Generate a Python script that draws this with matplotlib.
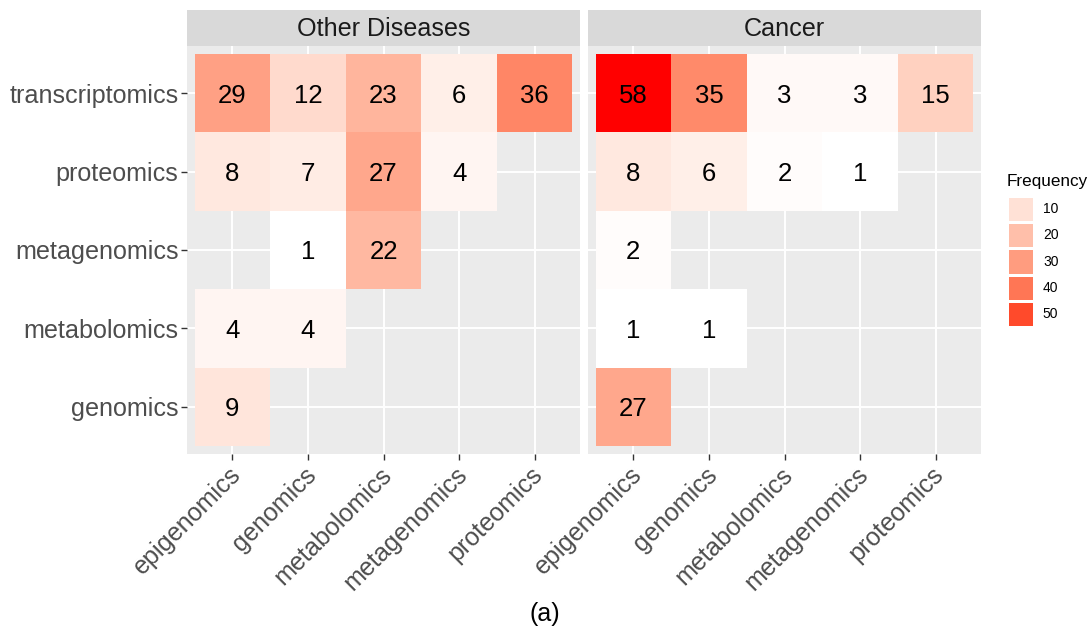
import numpy as np
import matplotlib
matplotlib.use("Agg")
import matplotlib.pyplot as plt
import matplotlib.transforms as mtransforms
from matplotlib.colors import ListedColormap, Normalize

plt.rcParams['font.family'] = ['Liberation Sans', 'DejaVu Sans']

# ---------------- data ----------------
x_categories = ["epigenomics", "genomics", "metabolomics", "metagenomics", "proteomics"]
y_categories = ["genomics", "metabolomics", "metagenomics", "proteomics", "transcriptomics"]
facets = ["Other Diseases", "Cancer"]
nan = np.nan
# rows follow y_categories (bottom -> top), columns follow x_categories
other_diseases = [
    [9,   nan, nan, nan, nan],   # genomics
    [4,   4,   nan, nan, nan],   # metabolomics
    [nan, 1,   22,  nan, nan],   # metagenomics
    [8,   7,   27,  4,   nan],   # proteomics
    [29,  12,  23,  6,   36],    # transcriptomics
]
cancer = [
    [27,  nan, nan, nan, nan],
    [1,   1,   nan, nan, nan],
    [2,   nan, nan, nan, nan],
    [8,   6,   2,   1,   nan],
    [58,  35,  3,   3,   15],
]
legend_breaks = [10, 20, 30, 40, 50]
caption = "(a)"
legend_title = "Frequency"

# ---------------- colour scale (white -> red in Lab, like ggplot) ----------------
def srgb_to_lab(rgb):
    rgb = np.asarray(rgb, float)
    lin = np.where(rgb <= 0.04045, rgb / 12.92, ((rgb + 0.055) / 1.055) ** 2.4)
    M = np.array([[0.4124564, 0.3575761, 0.1804375],
                  [0.2126729, 0.7151522, 0.0721750],
                  [0.0193339, 0.1191920, 0.9503041]])
    xyz = M @ lin
    wp = np.array([0.95047, 1.0, 1.08883])
    t = xyz / wp
    f = np.where(t > (6/29) ** 3, np.cbrt(t), t / (3 * (6/29) ** 2) + 4/29)
    return np.array([116 * f[1] - 16, 500 * (f[0] - f[1]), 200 * (f[1] - f[2])])

def lab_to_srgb(lab):
    L, a, b = lab
    fy_ = (L + 16) / 116
    fx_ = fy_ + a / 500
    fz_ = fy_ - b / 200
    def finv(t):
        return np.where(t > 6/29, t ** 3, 3 * (6/29) ** 2 * (t - 4/29))
    wp = np.array([0.95047, 1.0, 1.08883])
    xyz = np.array([finv(fx_), finv(fy_), finv(fz_)]) * wp
    Minv = np.array([[3.2404542, -1.5371385, -0.4985314],
                     [-0.9692660, 1.8760108, 0.0415560],
                     [0.0556434, -0.2040259, 1.0572252]])
    lin = Minv @ xyz
    lin = np.clip(lin, 0, 1)
    rgb = np.where(lin <= 0.0031308, 12.92 * lin, 1.055 * lin ** (1/2.4) - 0.055)
    return np.clip(rgb, 0, 1)

lab_lo = srgb_to_lab([1, 1, 1])
lab_hi = srgb_to_lab([1, 0, 0])
cols = [lab_to_srgb(lab_lo + (lab_hi - lab_lo) * t) for t in np.linspace(0, 1, 256)]
cmap = ListedColormap(cols)
all_vals = np.array(other_diseases + cancer, float)
norm = Normalize(vmin=np.nanmin(all_vals), vmax=np.nanmax(all_vals))

# ---------------- figure ----------------
W, H = 1089, 629
fig = plt.figure(figsize=(W / 100, H / 100), dpi=100)

def fx(px):
    return px / W

def fy(py):
    return 1 - py / H

panel_top, panel_bot = 46, 454
strip_top = 10
panels_x = [(187, 580), (588, 981)]
tick_color = "#4D4D4D"
fs_tick = 18.1
fs_num = 18.5
nx, ny = len(x_categories), len(y_categories)
xlab_shift = mtransforms.ScaledTranslation(-4 / 100, 0, fig.dpi_scale_trans)

for k, (name, data) in enumerate(zip(facets, [other_diseases, cancer])):
    x0, x1 = panels_x[k]
    ax = fig.add_axes([fx(x0), fy(panel_bot), fx(x1) - fx(x0), fy(panel_top) - fy(panel_bot)])
    ax.set_facecolor("#EBEBEB")
    arr = np.ma.masked_invalid(np.array(data, float))
    xe = np.arange(nx + 1) - 0.5
    ye = np.arange(ny + 1) - 0.5
    ax.pcolormesh(xe, ye, arr, cmap=cmap, norm=norm, zorder=2, edgecolors='none')
    for i in range(ny):
        for j in range(nx):
            v = data[i][j]
            if not np.isnan(v):
                ax.text(j, i, f"{int(v)}", ha='center', va='center_baseline', fontsize=fs_num,
                        color='black', zorder=3)
    ax.set_xlim(-0.6, nx - 0.4)
    ax.set_ylim(-0.6, ny - 0.4)
    ax.set_xticks(range(nx))
    ax.set_yticks(range(ny))
    ax.grid(True, color='white', linewidth=1.4, zorder=0)
    ax.set_axisbelow(True)
    for s in ax.spines.values():
        s.set_visible(False)
    ax.tick_params(axis='both', length=4, width=1.0, color='#333333', labelcolor=tick_color,
                   labelsize=fs_tick, pad=2.2)
    ax.set_xticklabels(x_categories, rotation=45, ha='right', va='top', rotation_mode='anchor')
    for lbl in ax.get_xticklabels():
        lbl.set_transform(lbl.get_transform() + xlab_shift)
    if k == 0:
        ax.set_yticklabels(y_categories)
    else:
        ax.set_yticklabels([])
        ax.tick_params(axis='y', length=0)

    # strip
    sax = fig.add_axes([fx(x0), fy(panel_top), fx(x1) - fx(x0), fy(strip_top) - fy(panel_top)])
    sax.set_facecolor("#D9D9D9")
    sax.set_xticks([]); sax.set_yticks([])
    for s in sax.spines.values():
        s.set_visible(False)
    sax.text(0.5, 0.47, name, ha='center', va='center', fontsize=fs_tick, color='#1A1A1A',
             transform=sax.transAxes)

# legend
lx0, lx1, ly0, ly1 = 1007, 1034, 196, 327
lax = fig.add_axes([fx(lx0), fy(ly1), fx(lx1) - fx(lx0), fy(ly0) - fy(ly1)])
lvals = np.array(legend_breaks, float)[::-1].reshape(-1, 1)
lax.pcolormesh([0, 1], np.arange(len(legend_breaks) + 1), lvals, cmap=cmap, norm=norm,
               edgecolors='white', linewidth=0.8)
lax.set_xlim(0, 1)
lax.set_ylim(0, len(legend_breaks))
lax.set_xticks([]); lax.set_yticks([])
for s in lax.spines.values():
    s.set_visible(False)
for i, b in enumerate(legend_breaks[::-1]):
    lax.text(1.33, i + 0.5, str(b), ha='left', va='center', fontsize=10, color='black',
             transform=lax.transData, clip_on=False)
fig.text(fx(1007), fy(181), legend_title, ha='left', va='center', fontsize=12.3, color='black')

fig.text(0.5, fy(614), caption, ha='center', va='center', fontsize=18, color='black')

fig.savefig("out.png", dpi=100)
